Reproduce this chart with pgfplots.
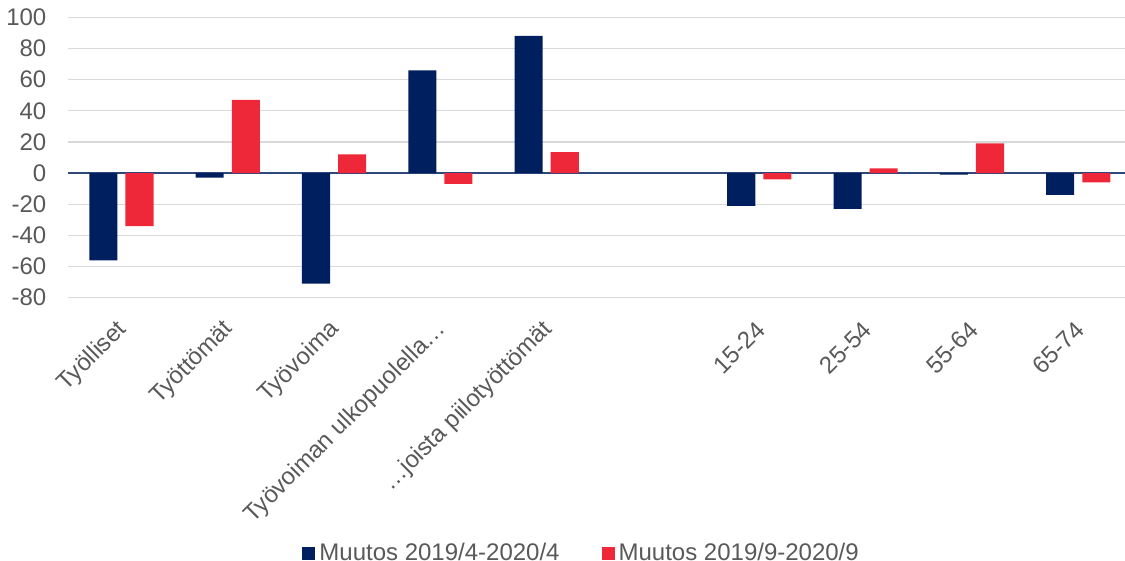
\documentclass[border=0pt]{standalone}
\usepackage{fontspec}
\setmainfont{Liberation Sans}
\usepackage{pgfplots}
\pgfplotsset{compat=1.18}
\definecolor{navybar}{RGB}{0,31,94}
\definecolor{redbar}{RGB}{238,40,56}
\definecolor{txt}{RGB}{89,89,89}
\definecolor{gridc}{RGB}{217,217,217}
\definecolor{zeroline}{RGB}{47,72,124}
\begin{document}
\begin{tikzpicture}[font=\fontsize{12}{14.4}\selectfont]
\useasboundingbox (0,0) rectangle (562.5pt,280.5pt);
\begin{axis}[
  at={(34.15pt,131.65pt)}, anchor=south west,
  scale only axis, width=528.35pt, height=140.2pt,
  xmin=-0.5, xmax=9.44, ymin=-80, ymax=100,
  ytick={-80,-60,-40,-20,0,20,40,60,80,100},
  xtick={0,1,2,3,4,6,7,8,9},
  xticklabels={Työlliset,Työttömät,Työvoima,Työvoiman ulkopuolella…,…joista piilotyöttömät,15-24,25-54,55-64,65-74},
  major tick length=0pt,
  axis line style={draw=none},
  ymajorgrids, grid style={gridc, line width=0.7pt},
  extra y ticks={0}, extra y tick labels={},
  extra y tick style={grid style={zeroline, line width=0.8pt}},
  /pgf/number format/assume math mode=true,
  tick label style={text=txt, font=\fontsize{12}{14.4}\selectfont},
  yticklabel style={inner sep=0pt, xshift=-10.8pt},
  xticklabel style={xshift=1pt, yshift=-14pt, rotate=45, anchor=east, inner sep=0pt},
  legend columns=2,
  legend style={at={(0.2212,-0.912)}, anchor=west, draw=none, inner sep=0pt,
    font=\fontsize{12}{14.4}\selectfont, text=txt,
    /tikz/every even column/.append style={column sep=19pt}},
  ybar, bar width=0.264,
  legend image code/.code={\fill[#1] (0pt,-3.25pt) rectangle (6.5pt,3.25pt);},
]
\addplot[fill=navybar, draw=none, bar shift=-0.17] coordinates {
 (0,-56) (1,-3) (2,-71) (3,66) (4,88) (6,-21) (7,-23) (8,-1) (9,-14)};
\addlegendentry{Muutos 2019/4-2020/4}
\addplot[fill=redbar, draw=none, bar shift=0.17] coordinates {
 (0,-34) (1,47) (2,12) (3,-7) (4,13.5) (6,-4) (7,3) (8,19) (9,-6)};
\addlegendentry{Muutos 2019/9-2020/9}
\node[text=txt, font=\fontsize{12}{14.4}\selectfont] at (axis cs:7.5,-80) [yshift=-64.65pt] {Työvoima};
\end{axis}
\end{tikzpicture}
\end{document}
